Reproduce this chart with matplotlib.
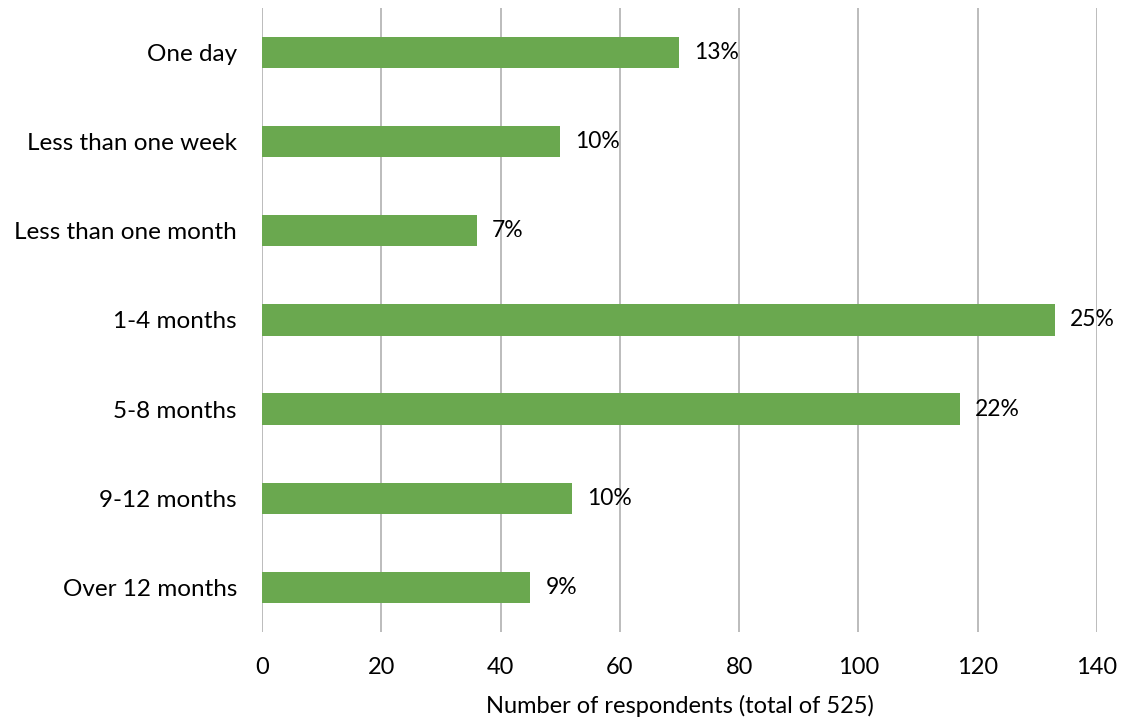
import matplotlib.pyplot as plt
import numpy as np

plt.rcParams['font.family'] = ['Lato', 'DejaVu Sans']

categories = ['One day', 'Less than one week', 'Less than one month', '1-4 months',
              '5-8 months', '9-12 months', 'Over 12 months']
respondents = [70, 50, 36, 133, 117, 52, 45]
pct_labels = ['13%', '10%', '7%', '25%', '22%', '10%', '9%']

fig = plt.figure(figsize=(11.22, 7.23), dpi=100)
ax = fig.add_axes([0.2335, 0.126, 0.7442, 0.863])

y = np.arange(len(categories))
ax.barh(y, respondents, height=0.35, color='#6aa84f', zorder=3)
for yi, v, lab in zip(y, respondents, pct_labels):
    ax.text(v + 2.5, yi, lab, va='center', ha='left', fontsize=16.5, zorder=4)

ax.set_xlim(0, 140)
ax.set_ylim(len(categories) - 0.5, -0.5)
ax.set_xticks(np.arange(0, 141, 20))
ax.set_yticks(y)
ax.set_yticklabels(categories, fontsize=17.5)
ax.tick_params(axis='x', labelsize=17, length=0, pad=18)
ax.tick_params(axis='y', length=0, pad=18)
ax.grid(axis='x', color='#b0b0b0', linewidth=1.2, zorder=0)
for s in ax.spines.values():
    s.set_visible(False)
ax.set_xlabel('Number of respondents (total of 525)', fontsize=17, labelpad=12)

fig.savefig('out.png', dpi=100)
